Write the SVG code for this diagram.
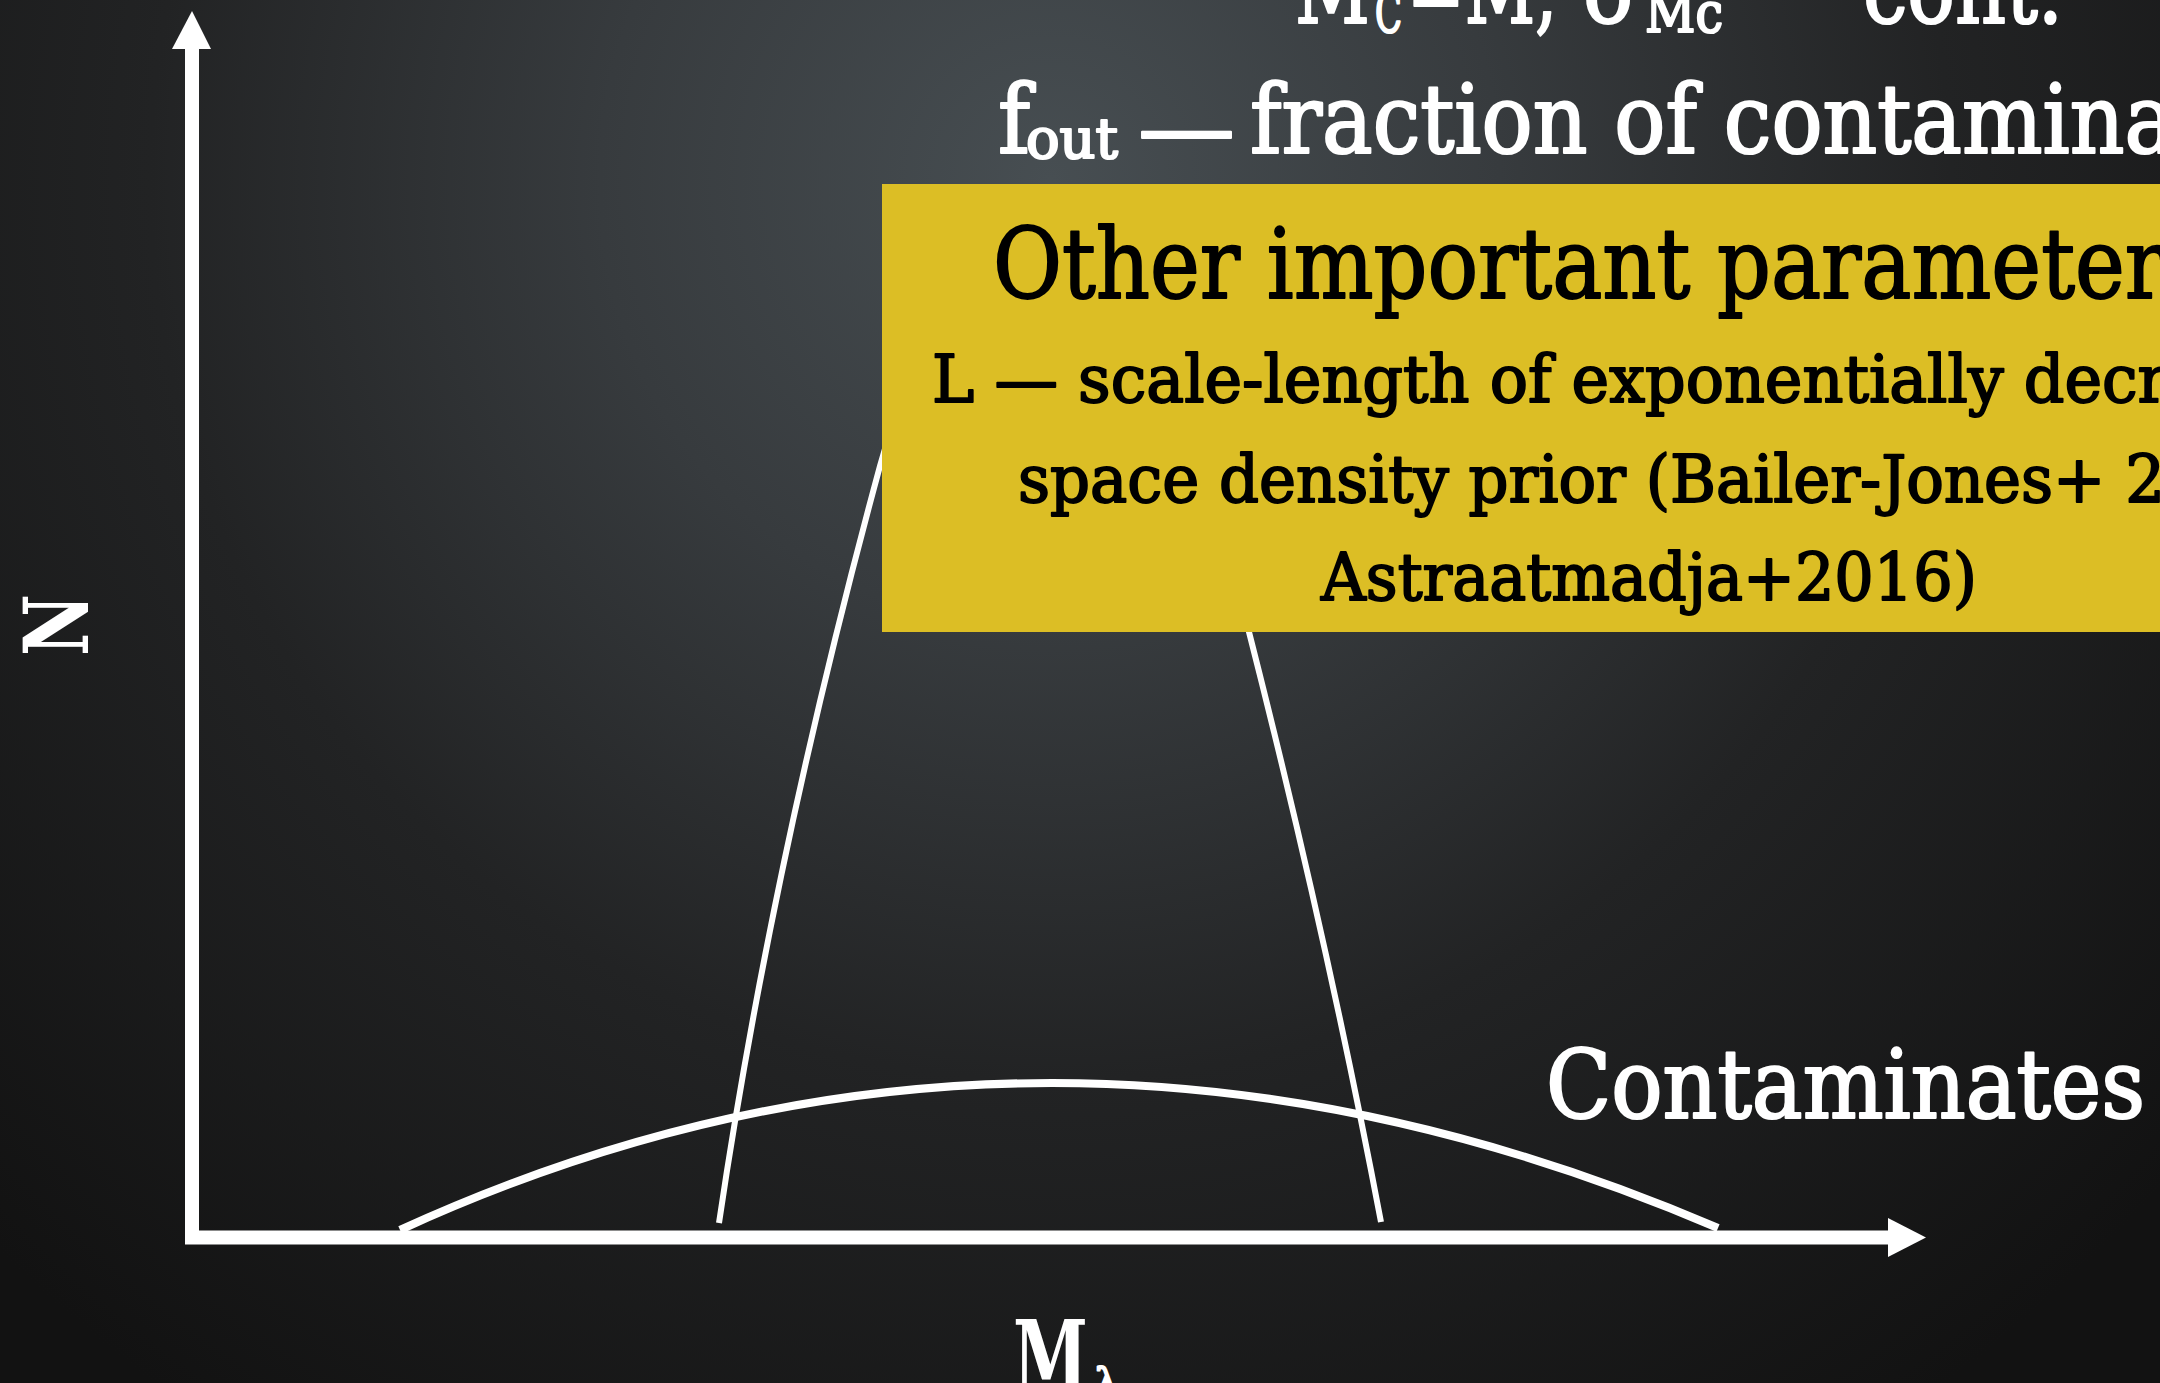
<svg xmlns="http://www.w3.org/2000/svg" width="2160" height="1383" viewBox="0 0 2160 1383">
<defs>
<radialGradient id="bg" cx="1050" cy="180" r="1500" gradientUnits="userSpaceOnUse">
<stop offset="0" stop-color="#474e52"/>
<stop offset="0.3" stop-color="#373b3e"/>
<stop offset="0.6" stop-color="#222324"/>
<stop offset="1" stop-color="#121212"/>
</radialGradient>
<style>
.w{fill:#fff;stroke:#fff;stroke-width:2.2;stroke-linejoin:round;font-family:'DejaVu Serif Condensed','DejaVu Serif',serif;}
.k{fill:#000;stroke:#000;stroke-width:1.8;stroke-linejoin:round;font-family:'DejaVu Serif Condensed','DejaVu Serif',serif;}
.wb{fill:#fff;font-family:'DejaVu Serif','Liberation Serif',serif;font-weight:bold;}
.curve{fill:none;stroke:#fff;stroke-linecap:butt;}
</style>
</defs>
<rect width="2160" height="1383" fill="url(#bg)"/>

<g id="connectors">
<path id="wide-curve" class="curve" stroke-width="8" d="M400,1230 Q1040,937 1718,1228"/>
<path id="narrow-curve" class="curve" stroke-width="6" d="M719,1223 C756,973 812,716 880,466 C920,320 990,230 1060,230 C1130,230 1198,432 1249,632 C1300,832 1343,1022 1381,1222"/>
<path id="axes" d="M192,49 V1237.5 H1888" fill="none" stroke="#fff" stroke-width="14" stroke-linejoin="miter"/>
<polygon points="192,11 211,49 172,49" fill="#fff"/>
<polygon points="1926,1237.5 1888,1257 1888,1218" fill="#fff"/>
</g>

<g id="box">
<rect x="882" y="184" width="1278" height="448" fill="#dcbe25"/>
<text class="k" x="993" y="298" font-size="98" stroke-width="2.4" textLength="1172" lengthAdjust="spacingAndGlyphs">Other important parameter</text>
<text class="k" x="932" y="402" font-size="66" textLength="1236" lengthAdjust="spacingAndGlyphs">L — scale-length of exponentially decr</text>
<text class="k" x="1018" y="502" font-size="66" textLength="1147" lengthAdjust="spacingAndGlyphs">space density prior (Bailer-Jones+ 2</text>
<text class="k" x="1321" y="600" font-size="66" textLength="656" lengthAdjust="spacingAndGlyphs">Astraatmadja+2016)</text>
</g>

<g id="top-line">
<text class="w" x="1295" y="23" font-size="96" textLength="75" lengthAdjust="spacingAndGlyphs">M</text>
<text class="w" x="1375" y="32" font-size="56" stroke-width="1.4" textLength="27" lengthAdjust="spacingAndGlyphs">C</text>
<text class="w" x="1407" y="23" font-size="96" textLength="150" lengthAdjust="spacingAndGlyphs">=M,</text>
<text class="w" x="1583" y="23" font-size="96" textLength="57" lengthAdjust="spacingAndGlyphs">σ</text>
<text class="w" x="1645" y="32" font-size="56" stroke-width="1.4" textLength="78" lengthAdjust="spacingAndGlyphs">Mc</text>
<text class="w" x="1863" y="23" font-size="96" textLength="200" lengthAdjust="spacingAndGlyphs">cont.</text>
</g>

<g id="fout-line">
<text class="w" x="998" y="153" font-size="96">f</text>
<text class="w" x="1026" y="158" font-size="56" stroke-width="1.4" textLength="92" lengthAdjust="spacingAndGlyphs">out</text>
<text class="w" x="1138" y="160" font-size="96" textLength="97" lengthAdjust="spacingAndGlyphs">—</text>
<text class="w" x="1250" y="153" font-size="96" textLength="925" lengthAdjust="spacingAndGlyphs">fraction of contamina</text>
</g>

<g id="contaminates">
<text class="w" x="1546" y="1118" font-size="96" textLength="599" lengthAdjust="spacingAndGlyphs">Contaminates</text>
</g>

<g id="x-label">
<text class="wb" x="1013" y="1390" font-size="98" textLength="75" lengthAdjust="spacingAndGlyphs">M</text>
<text class="w" x="1095" y="1396" font-size="40" stroke-width="0">λ</text>
</g>

<g id="y-label">
<text class="wb" transform="translate(88,625) rotate(-90)" x="0" y="0" font-size="89" text-anchor="middle" textLength="62" lengthAdjust="spacingAndGlyphs">N</text>
</g>
</svg>
